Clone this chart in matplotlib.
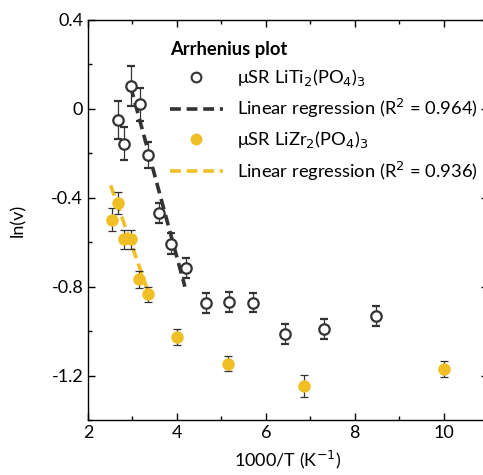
import matplotlib
matplotlib.use('Agg')
import matplotlib.pyplot as plt
from matplotlib.ticker import MultipleLocator
from matplotlib.lines import Line2D

# LiTi2(PO4)3 data (open circles)
ti_x = [2.67, 2.82, 2.96, 3.16, 3.36, 3.59, 3.87, 4.20, 4.65, 5.18, 5.72, 6.43, 7.30, 8.47]
ti_y = [-0.05, -0.156, 0.104, 0.021, -0.207, -0.467, -0.607, -0.718, -0.872, -0.868, -0.872, -1.015, -0.991, -0.932]
ti_err = [0.086, 0.075, 0.09, 0.074, 0.06, 0.045, 0.047, 0.045, 0.045, 0.045, 0.044, 0.045, 0.044, 0.045]

# LiZr2(PO4)3 data (filled circles)
zr_x = [2.53, 2.67, 2.80, 2.97, 3.15, 3.36, 4.01, 5.15, 6.85, 10.01]
zr_y = [-0.498, -0.423, -0.587, -0.587, -0.767, -0.835, -1.027, -1.147, -1.248, -1.170]
zr_err = [0.053, 0.05, 0.043, 0.043, 0.039, 0.035, 0.035, 0.034, 0.049, 0.036]

# regression lines (end points)
ti_fit_x = [2.96, 4.18]
ti_fit_y = [0.10, -0.80]
zr_fit_x = [2.51, 3.36]
zr_fit_y = [-0.344, -0.827]

labels = [r'$\mathregular{\mu}$SR LiTi$_2$(PO$_4$)$_3$',
          r'Linear regression (R$^2$ = 0.964)',
          r'$\mathregular{\mu}$SR LiZr$_2$(PO$_4$)$_3$',
          r'Linear regression (R$^2$ = 0.936)']

dark = '#333333'
gold = '#f0bf26'

plt.rcParams['font.family'] = ['Lato', 'DejaVu Sans']
plt.rcParams['axes.unicode_minus'] = False

fig = plt.figure(figsize=(4.83, 4.75), dpi=100)
ax = fig.add_axes([88 / 483, 1 - 420 / 475, 400 / 483, 400 / 475])

ax.errorbar(ti_x, ti_y, yerr=ti_err, fmt='o', mfc='white', mec=dark, mew=1.6,
            ms=7.5, ecolor=dark, elinewidth=0.9, capsize=3, capthick=0.9, zorder=3)
ax.plot(ti_fit_x, ti_fit_y, '--', color=dark, lw=2.6, dashes=(3, 1.6), zorder=2)
ax.errorbar(zr_x, zr_y, yerr=zr_err, fmt='o', mfc=gold, mec=gold,
            ms=8, ecolor=dark, elinewidth=0.9, capsize=3, capthick=0.9, zorder=3)
ax.plot(zr_fit_x, zr_fit_y, '--', color=gold, lw=2.6, dashes=(3, 1.6), zorder=2)

ax.set_xlim(2, 11)
ax.set_ylim(-1.4, 0.4)
ax.xaxis.set_major_locator(MultipleLocator(2))
ax.xaxis.set_minor_locator(MultipleLocator(1))
ax.yaxis.set_minor_locator(MultipleLocator(0.2))
ax.tick_params(which='both', direction='in', top=True, right=True,
               labelsize=13, width=1)
ax.tick_params(which='major', length=5)
ax.tick_params(which='minor', length=3)
ax.set_yticks([-1.2, -0.8, -0.4, 0, 0.4])
ax.set_yticklabels(['-1.2', '-0.8', '-0.4', '0', '0.4'])
for s in ax.spines.values():
    s.set_linewidth(1)

ax.set_xlabel(r'1000/T (K$^{-1}$)', fontsize=13, labelpad=6)
ax.set_ylabel(r'ln(v)', fontsize=13, labelpad=18)

handles = [
    Line2D([], [], ls='none', marker='o', mfc='white', mec=dark, mew=1.5, ms=7),
    Line2D([], [], ls='--', color=dark, lw=2.6, dashes=(3, 1.6)),
    Line2D([], [], ls='none', marker='o', mfc=gold, mec=gold, ms=7.5),
    Line2D([], [], ls='--', color=gold, lw=2.6, dashes=(3, 1.6)),
]
leg = ax.legend(handles, labels, loc='upper left', bbox_to_anchor=(0.172, 0.98),
                frameon=False, fontsize=13.2, title='Arrhenius plot',
                title_fontproperties={'weight': 'bold', 'size': 13.2},
                alignment='left', handlelength=2.9, handletextpad=0.75,
                labelspacing=0.5, borderpad=0.2)

fig.savefig('out.png', dpi=100)
